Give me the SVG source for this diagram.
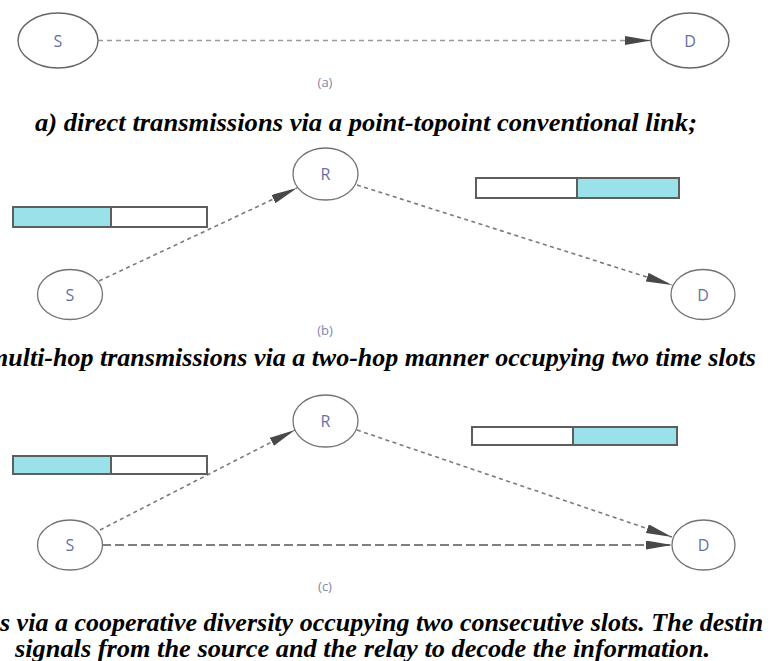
<svg xmlns="http://www.w3.org/2000/svg" width="775" height="661" viewBox="0 0 775 661">
  <defs>
    <style>
      .node { fill: #ffffff; stroke: #666666; stroke-width: 1.4; }
      .node-s { fill: #ffffff; stroke: #727272; stroke-width: 1.3; }
      .slot { stroke: #5e5e5e; stroke-width: 2; }
      .busy { fill: #9ae1e9; }
      .idle { fill: #ffffff; }
      .link-a { fill: none; stroke: #9a9a9a; stroke-width: 1.3; stroke-dasharray: 5 4; }
      .link { fill: none; stroke: #7a7a7a; stroke-width: 1.6; stroke-dasharray: 4 3.5; }
      .link-direct { fill: none; stroke: #555555; stroke-width: 1.7; stroke-dasharray: 9 4; }
    </style>
    <marker id="arrow" markerUnits="userSpaceOnUse" markerWidth="27" markerHeight="10" refX="26" refY="4.5" orient="auto">
      <path d="M0,0 L26,4.5 L0,9 Z" fill="#484848"/>
    </marker>
  </defs>

  <rect x="0" y="0" width="775" height="661" fill="#ffffff"/>

  <!-- connectors -->
  <g id="connectors">
    <!-- (a) direct link -->
    <line class="link-a" x1="98" y1="40.5" x2="651" y2="40.5" marker-end="url(#arrow)"/>
    <!-- (b) two-hop -->
    <line class="link" x1="99" y1="281" x2="297" y2="188" marker-end="url(#arrow)"/>
    <line class="link" x1="357" y1="185" x2="672" y2="285" marker-end="url(#arrow)"/>
    <!-- (c) cooperative -->
    <line class="link" x1="100" y1="530" x2="295" y2="430" marker-end="url(#arrow)"/>
    <line class="link" x1="357" y1="430" x2="672" y2="537" marker-end="url(#arrow)"/>
    <line class="link-direct" x1="102" y1="545" x2="672" y2="545" marker-end="url(#arrow)"/>
  </g>

  <!-- time-slot bars -->
  <g id="b-slots-S">
    <rect class="busy" x="13" y="207" width="98" height="20"/>
    <rect class="idle" x="111" y="207" width="96" height="20"/>
    <rect class="slot" fill="none" x="13" y="207" width="194" height="20"/>
    <line class="slot" x1="111" y1="207" x2="111" y2="227"/>
  </g>
  <g id="b-slots-R">
    <rect class="idle" x="476" y="178" width="101" height="20"/>
    <rect class="busy" x="577" y="178" width="102" height="20"/>
    <rect class="slot" fill="none" x="476" y="178" width="203" height="20"/>
    <line class="slot" x1="577" y1="178" x2="577" y2="198"/>
  </g>
  <g id="c-slots-S">
    <rect class="busy" x="13" y="456" width="98" height="18"/>
    <rect class="idle" x="111" y="456" width="96" height="18"/>
    <rect class="slot" fill="none" x="13" y="456" width="194" height="18"/>
    <line class="slot" x1="111" y1="456" x2="111" y2="474"/>
  </g>
  <g id="c-slots-R">
    <rect class="idle" x="472" y="427" width="101" height="18"/>
    <rect class="busy" x="573" y="427" width="104" height="18"/>
    <rect class="slot" fill="none" x="472" y="427" width="205" height="18"/>
    <line class="slot" x1="573" y1="427" x2="573" y2="445" stroke-width="3"/>
  </g>

  <!-- nodes -->
  <g font-family="'Open Sans', 'Liberation Sans', sans-serif" font-size="16" fill="#6670a6" text-anchor="middle">
    <g id="a-S">
      <ellipse class="node" cx="58" cy="40.5" rx="40" ry="27.5"/>
      <text x="58" y="46.5">S</text>
    </g>
    <g id="a-D">
      <ellipse class="node" cx="690" cy="40.5" rx="39" ry="27.5"/>
      <text x="690" y="46.5">D</text>
    </g>
    <g id="b-R">
      <ellipse class="node-s" cx="325.5" cy="174" rx="32.5" ry="26"/>
      <text x="325.5" y="180">R</text>
    </g>
    <g id="b-S">
      <ellipse class="node-s" cx="70" cy="294.5" rx="32.5" ry="25"/>
      <text x="70" y="300.5">S</text>
    </g>
    <g id="b-D">
      <ellipse class="node-s" cx="703" cy="294.5" rx="32" ry="25"/>
      <text x="703" y="300.5">D</text>
    </g>
    <g id="c-R">
      <ellipse class="node-s" cx="325.5" cy="421" rx="32.5" ry="26"/>
      <text x="325.5" y="427">R</text>
    </g>
    <g id="c-S">
      <ellipse class="node-s" cx="70" cy="545" rx="32.5" ry="25"/>
      <text x="70" y="551">S</text>
    </g>
    <g id="c-D">
      <ellipse class="node-s" cx="703.5" cy="545" rx="31.5" ry="25"/>
      <text x="703.5" y="551">D</text>
    </g>
  </g>

  <!-- panel tags -->
  <g font-family="'Open Sans', 'Liberation Sans', sans-serif" font-size="13" fill="#8286aa" text-anchor="middle">
    <text x="325" y="87">(a)</text>
    <text x="325" y="335">(b)</text>
    <text x="325" y="591">(c)</text>
  </g>

  <!-- captions -->
  <g font-family="'Liberation Serif', 'Times New Roman', serif" font-size="26" font-weight="bold" font-style="italic" fill="#000000">
    <text x="35" y="131" textLength="662" lengthAdjust="spacingAndGlyphs">a) direct transmissions via a point-topoint conventional link;</text>
    <text x="-12" y="366">multi-hop transmissions via a two-hop manner occupying two time slots</text>
    <text x="0" y="631">s via a cooperative diversity occupying two consecutive slots. The destin</text>
    <text x="15" y="657" textLength="695" lengthAdjust="spacingAndGlyphs">signals from the source and the relay to decode the information.</text>
  </g>
</svg>
